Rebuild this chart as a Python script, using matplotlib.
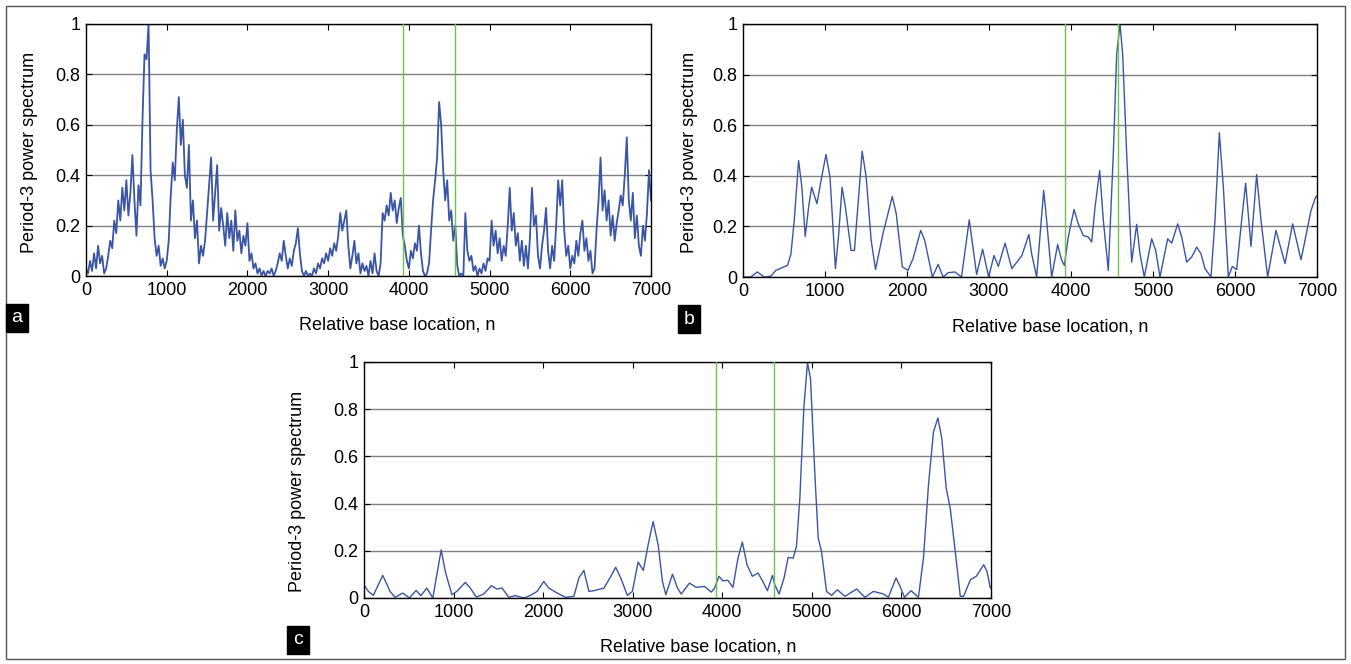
import numpy as np
import matplotlib
matplotlib.use("Agg")
import matplotlib.pyplot as plt
from matplotlib.patches import Rectangle
from matplotlib.ticker import FormatStrFormatter

plt.rcParams['font.family'] = ['Liberation Sans', 'DejaVu Sans']

# a: sliding-window period-3 power, one value every 25 bases (0..7000)
a_step = 25
a_vals = [
    0.03, 0.01, 0.06, 0.02, 0.09, 0.03, 0.12, 0.05, 0.08, 0.01,
    0.03, 0.08, 0.14, 0.11, 0.22, 0.17, 0.30, 0.22, 0.35, 0.26,
    0.38, 0.24, 0.33, 0.48, 0.30, 0.16, 0.36, 0.28, 0.62, 0.88,
    0.86, 1.00, 0.42, 0.30, 0.15, 0.08, 0.12, 0.04, 0.07, 0.03,
    # 1000
    0.06, 0.14, 0.32, 0.45, 0.38, 0.58, 0.71, 0.52, 0.62, 0.40,
    0.35, 0.52, 0.22, 0.30, 0.15, 0.22, 0.05, 0.12, 0.08, 0.14,
    0.25, 0.36, 0.47, 0.22, 0.33, 0.44, 0.18, 0.27, 0.20, 0.12,
    0.25, 0.15, 0.22, 0.10, 0.26, 0.14, 0.18, 0.09, 0.16, 0.12,
    # 2000
    0.21, 0.06, 0.09, 0.03, 0.05, 0.01, 0.03, 0.00, 0.02, 0.00,
    0.02, 0.01, 0.03, 0.00, 0.02, 0.05, 0.09, 0.06, 0.14, 0.08,
    0.03, 0.07, 0.04, 0.10, 0.13, 0.19, 0.09, 0.02, 0.00, 0.02,
    0.00, 0.01, 0.00, 0.03, 0.01, 0.05, 0.03, 0.07, 0.05, 0.09,
    # 3000
    0.06, 0.11, 0.08, 0.13, 0.10, 0.16, 0.25, 0.18, 0.22, 0.26,
    0.12, 0.03, 0.08, 0.14, 0.05, 0.09, 0.01, 0.05, 0.02, 0.04,
    0.00, 0.06, 0.01, 0.09, 0.02, 0.00, 0.05, 0.25, 0.22, 0.28,
    0.24, 0.33, 0.26, 0.30, 0.21, 0.27, 0.31, 0.16, 0.12, 0.06,
    # 4000
    0.03, 0.10, 0.07, 0.13, 0.10, 0.20, 0.09, 0.02, 0.00, 0.01,
    0.05, 0.18, 0.30, 0.38, 0.47, 0.69, 0.60, 0.42, 0.30, 0.38,
    0.22, 0.26, 0.14, 0.20, 0.04, 0.00, 0.01, 0.00, 0.25, 0.10,
    0.06, 0.08, 0.02, 0.04, 0.00, 0.03, 0.01, 0.05, 0.02, 0.07,
    # 5000
    0.06, 0.22, 0.12, 0.18, 0.09, 0.15, 0.06, 0.12, 0.08, 0.20,
    0.35, 0.18, 0.25, 0.12, 0.17, 0.06, 0.14, 0.04, 0.12, 0.03,
    0.15, 0.35, 0.20, 0.24, 0.08, 0.03, 0.12, 0.18, 0.27, 0.10,
    0.03, 0.12, 0.06, 0.20, 0.38, 0.28, 0.38, 0.18, 0.08, 0.12,
    # 6000
    0.03, 0.08, 0.05, 0.14, 0.08, 0.17, 0.22, 0.10, 0.15, 0.06,
    0.10, 0.01, 0.03, 0.18, 0.30, 0.47, 0.26, 0.34, 0.22, 0.30,
    0.16, 0.24, 0.14, 0.21, 0.26, 0.32, 0.28, 0.40, 0.55, 0.30,
    0.22, 0.33, 0.15, 0.24, 0.12, 0.08, 0.20, 0.14, 0.25, 0.42,
    0.30,
]
a_n = np.arange(len(a_vals)) * a_step

# b: smoothed spectrum
b_n = [0, 94, 175, 257, 339, 400, 543, 584, 624, 678, 718, 759, 800, 837, 902,
       951, 1012, 1061, 1127, 1167, 1208, 1249, 1318, 1359, 1453, 1502, 1563,
       1616, 1706, 1820, 1869, 1943, 2012, 2073, 2167, 2216, 2310, 2380, 2441,
       2502, 2584, 2665, 2759, 2849, 2922, 2996, 3061, 3114, 3196, 3278, 3400,
       3486, 3520, 3581, 3667, 3703, 3764, 3837, 3886, 3919, 3967, 4037, 4089,
       4150, 4211, 4252, 4293, 4350, 4394, 4455, 4516, 4557, 4598, 4630, 4679,
       4740, 4801, 4841, 4894, 4984, 5033, 5085, 5179, 5228, 5301, 5350, 5411,
       5472, 5533, 5585, 5634, 5707, 5756, 5809, 5858, 5919, 5967, 6020, 6081,
       6130, 6195, 6264, 6317, 6398, 6500, 6610, 6703, 6805, 6927, 6984, 7000]
b_vals = [0.0, 0.0, 0.02, 0.0, 0.003, 0.026, 0.046, 0.09, 0.22, 0.46, 0.355,
          0.16, 0.276, 0.355, 0.29, 0.38, 0.484, 0.395, 0.033, 0.17, 0.355,
          0.276, 0.105, 0.105, 0.497, 0.395, 0.145, 0.03, 0.17, 0.318, 0.25,
          0.04, 0.026, 0.072, 0.184, 0.145, 0.0, 0.05, 0.0, 0.017, 0.02, 0.0,
          0.226, 0.01, 0.11, 0.0, 0.085, 0.042, 0.134, 0.033, 0.084, 0.168,
          0.092, 0.0, 0.342, 0.224, 0.0, 0.128, 0.066, 0.046, 0.158, 0.267,
          0.21, 0.164, 0.158, 0.138, 0.276, 0.421, 0.224, 0.026, 0.487, 0.88,
          1.0, 0.88, 0.487, 0.059, 0.208, 0.092, 0.0, 0.151, 0.105, 0.0,
          0.151, 0.134, 0.21, 0.158, 0.059, 0.079, 0.118, 0.092, 0.033, 0.0,
          0.224, 0.57, 0.355, 0.0, 0.042, 0.029, 0.224, 0.371, 0.121, 0.405,
          0.224, 0.0, 0.184, 0.053, 0.21, 0.068, 0.263, 0.316, 0.32]

# c: smoothed spectrum
c_n = [0, 49, 104, 209, 291, 347, 433, 507, 582, 634, 701, 769, 813, 862, 907,
       981, 1037, 1131, 1187, 1254, 1336, 1422, 1485, 1541, 1616, 1690, 1784,
       1858, 1933, 2007, 2063, 2157, 2250, 2343, 2399, 2455, 2511, 2567, 2679,
       2746, 2810, 2866, 2940, 2996, 3060, 3119, 3172, 3228, 3284, 3332, 3370,
       3444, 3500, 3541, 3634, 3709, 3802, 3877, 3914, 3963, 4007, 4063, 4119,
       4175, 4224, 4276, 4336, 4399, 4455, 4504, 4560, 4586, 4634, 4690, 4735,
       4791, 4828, 4866, 4910, 4951, 4985, 5034, 5071, 5108, 5164, 5220, 5284,
       5369, 5500, 5593, 5687, 5799, 5854, 5940, 5985, 6034, 6108, 6190, 6246,
       6302, 6358, 6407, 6451, 6500, 6545, 6601, 6657, 6694, 6769, 6836, 6918,
       6955, 6993]
c_vals = [0.056, 0.028, 0.011, 0.096, 0.028, 0.003, 0.021, 0.0, 0.032, 0.01,
          0.042, 0.0, 0.099, 0.204, 0.113, 0.014, 0.028, 0.066, 0.042, 0.004,
          0.017, 0.052, 0.038, 0.042, 0.003, 0.01, 0.0, 0.011, 0.028, 0.07,
          0.042, 0.021, 0.003, 0.007, 0.085, 0.117, 0.028, 0.031, 0.042, 0.085,
          0.13, 0.085, 0.011, 0.028, 0.152, 0.117, 0.225, 0.324, 0.225, 0.07,
          0.014, 0.101, 0.042, 0.017, 0.063, 0.045, 0.049, 0.025, 0.042, 0.092,
          0.073, 0.075, 0.045, 0.169, 0.237, 0.141, 0.092, 0.106, 0.068, 0.031,
          0.096, 0.056, 0.017, 0.085, 0.172, 0.169, 0.218, 0.423, 0.803, 0.997,
          0.93, 0.521, 0.254, 0.197, 0.028, 0.011, 0.035, 0.007, 0.038, 0.003,
          0.028, 0.017, 0.003, 0.085, 0.049, 0.003, 0.031, 0.003, 0.169, 0.479,
          0.704, 0.763, 0.676, 0.465, 0.38, 0.197, 0.007, 0.007, 0.077, 0.092,
          0.141, 0.113, 0.042]

# gene boundaries
marks = [3925, 4575]

BLUE = '#3a55a6'
GREEN = '#6cc24a'

W, H = 1351, 664
fig = plt.figure(figsize=(W / 100, H / 100), dpi=100)


def px_axes(x0, y0, x1, y1):
    return fig.add_axes([x0 / W, 1 - y1 / H, (x1 - x0) / W, (y1 - y0) / H])


def style(ax):
    ax.set_xlim(0, 7000)
    ax.set_ylim(0, 1)
    ax.set_xticks(range(0, 7001, 1000))
    ax.set_yticks([0, 0.2, 0.4, 0.6, 0.8, 1])
    ax.yaxis.set_major_formatter(FormatStrFormatter('%g'))
    ax.grid(axis='y', color='#808080', linewidth=1.0)
    ax.set_axisbelow(True)
    ax.tick_params(direction='in', top=True, right=True, length=4,
                   labelsize=13, pad=4, width=0.8)
    for s in ax.spines.values():
        s.set_linewidth(1.0)
        s.set_color('black')
    for m in marks:
        ax.axvline(m, color=GREEN, linewidth=1.0, zorder=3)


ax_a = px_axes(86, 24, 651, 276)
ax_a.plot(a_n, a_vals, color=BLUE, linewidth=1.3, zorder=2)
style(ax_a)

ax_b = px_axes(743, 24, 1317, 277)
ax_b.plot(b_n, b_vals, color=BLUE, linewidth=1.0, zorder=2)
style(ax_b)

ax_c = px_axes(364, 362, 991, 598)
ax_c.plot(c_n, c_vals, color=BLUE, linewidth=1.0, zorder=2)
style(ax_c)


def label_px(x, y, s, size=13, **kw):
    fig.text(x / W, 1 - y / H, s, ha='center', va='center', fontsize=size, **kw)


ylab = 'Period-3 power spectrum'
xlab = 'Relative base location, n'
label_px(30, 152, ylab, rotation=90)
label_px(690, 152, ylab, rotation=90)
label_px(298, 491, ylab, rotation=90)
label_px(397, 325, xlab)
label_px(1050, 327, xlab)
label_px(698, 647, xlab)

box = dict(boxstyle='square,pad=0.3', facecolor='black', edgecolor='black')
for x, y, s in [(17, 318, 'a'), (689, 319, 'b'), (298, 640, 'c')]:
    label_px(x, y, s, size=14, color='white', bbox=box)

fig.patches.append(Rectangle((6 / W, 1 - 659 / H), 1339 / W, 653 / H,
                             transform=fig.transFigure, fill=False,
                             edgecolor='#555555', linewidth=1.0))

fig.savefig('out.png', dpi=100)
